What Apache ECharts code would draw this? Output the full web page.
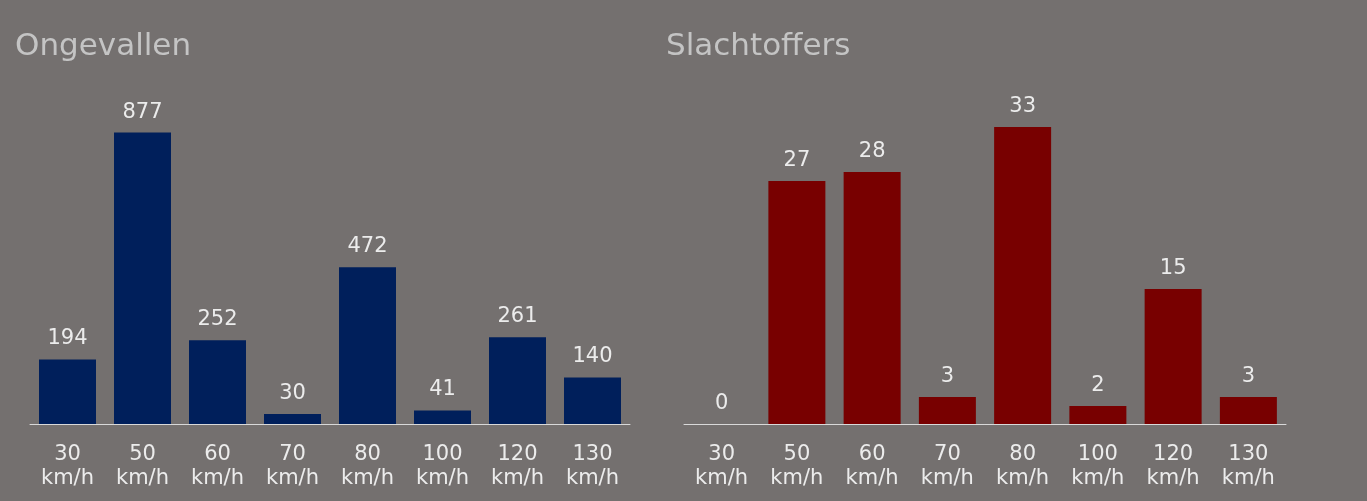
<!DOCTYPE html>
<html><head><meta charset="utf-8">
<script src="https://cdn.jsdelivr.net/npm/echarts@6/dist/echarts.min.js"></script>
<style>html,body{margin:0;padding:0;background:#74706f;}#c{width:1367px;height:501px;}</style>
</head><body><div id="c"></div>
<script>
const categories = ['30\nkm/h','50\nkm/h','60\nkm/h','70\nkm/h','80\nkm/h','100\nkm/h','120\nkm/h','130\nkm/h'];
const ongevallen = [194, 877, 252, 30, 472, 41, 261, 140];
const slachtoffers = [0, 27, 28, 3, 33, 2, 15, 3];
const titles = ['Ongevallen', 'Slachtoffers'];

const font = 'DejaVu Sans, Verdana, sans-serif';
const chart = echarts.init(document.getElementById('c'), null, {renderer:'canvas'});
function xAx(i){
  return {type:'category', gridIndex:i, data:categories,
    axisLine:{lineStyle:{color:'#d9d9d9', width:1}}, axisTick:{show:false},
    axisLabel:{color:'#ececec', fontSize:21, fontFamily:font, margin:19, lineHeight:24, interval:0}};
}
function yAx(i,max){
  return {type:'value', gridIndex:i, min:0, max:max, show:false, splitLine:{show:false}};
}
function ser(i,data,color){
  return {type:'bar', xAxisIndex:i, yAxisIndex:i, data:data, barWidth:57,
    itemStyle:{color:color},
    label:{show:true, position:'top', distance:10, color:'#ececec', fontSize:21, fontFamily:font}};
}
chart.setOption({
  backgroundColor:'#74706f',
  animation:false,
  title:[
    {text:titles[0], left:10, top:26, textStyle:{color:'#c4c4c4', fontSize:31, fontWeight:'normal', fontFamily:font}},
    {text:titles[1], left:661, top:26, textStyle:{color:'#c4c4c4', fontSize:31, fontWeight:'normal', fontFamily:font}}
  ],
  grid:[
    {left:30, width:600, top:100, bottom:77},
    {left:684, width:602, top:100, bottom:77}
  ],
  xAxis:[xAx(0), xAx(1)],
  yAxis:[yAx(0,975), yAx(1,36)],
  series:[ser(0,ongevallen,'#001f5b'), ser(1,slachtoffers,'#780000')]
});
</script></body></html>
